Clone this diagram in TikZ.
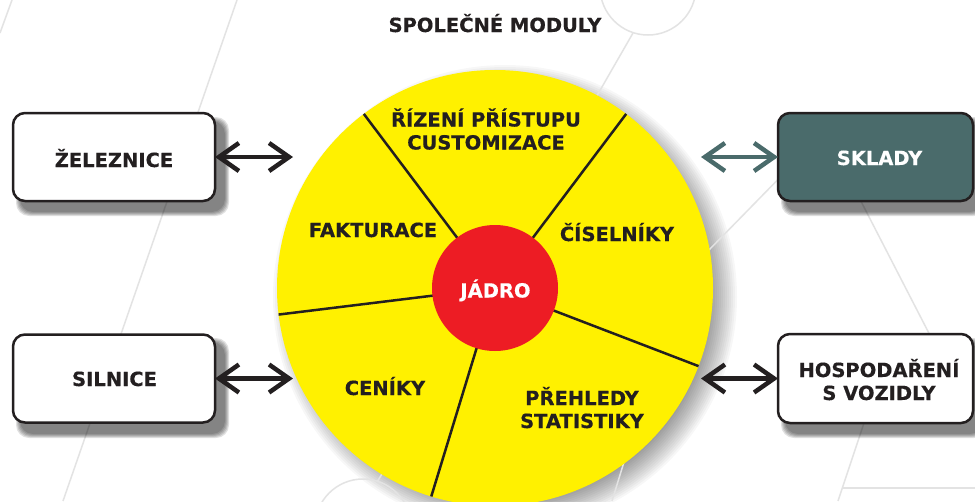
\documentclass[tikz,border=0pt]{standalone}
\usepackage{fontspec}
\setmainfont{DejaVu Sans}[BoldFeatures={FakeBold=0.4}]
\usetikzlibrary{arrows.meta}
\definecolor{ink}{HTML}{231F20}
\definecolor{sun}{HTML}{FFF100}
\definecolor{corered}{HTML}{ED1C24}
\definecolor{skl}{HTML}{4A6B6B}
\definecolor{bgline}{HTML}{E3E3E3}
\newcommand\twolines[2]{\vtop{\baselineskip=23pt\lineskiplimit=-100pt\halign{\hfil##\hfil\cr#1\cr#2\cr}}}
\newcommand\boxshadow[4]{\foreach \s in {0,...,4}{\fill[black,opacity=0.12,rounded corners=13pt] ({#1-#3/2+4+\s},{#2-#4/2+5+\s}) rectangle ({#1+#3/2+13-\s},{#2+#4/2+14-\s});}}
\begin{document}
\begin{tikzpicture}[x=1pt,y=-1pt,
  lbl/.style={font=\fontsize{19.5}{23}\selectfont\bfseries, text=ink, inner sep=0pt, anchor=base},
  modbox/.style={draw=ink, line width=2.5pt, rounded corners=12pt, fill=white, minimum width=202pt, minimum height=88pt, inner sep=0pt, outer sep=0pt},
  divider/.style={draw=ink, line width=2.5pt},
  bg/.style={draw=bgline, line width=1.5pt},
  link/.style={line width=4.5pt, ink, {Straight Barb[length=20pt,width=28pt]}-{Straight Barb[length=20pt,width=28pt]}}
]
\useasboundingbox (0,0) rectangle (975,501);
\fill[white] (0,0) rectangle (975,501);
% wheel shadow
\foreach \s in {0,...,13}{\fill[black,opacity=0.03] (505,297) circle ({232-2*\s});}
% background decoration
\draw[bg] (0,33) -- (12,0);
\draw[bg] (237,0) -- (63,501);
\draw[bg] (648,-13) circle (48);
\draw[bg] (633,33) -- (560,160);
\draw[bg] (800,157) -- (660,300);
\draw[bg] (850,180) -- (935,345);
\draw[bg] (875,390) -- (838,501);
\draw[bg] (843,488) -- (975,488);
\draw[bg] (640,410) -- (612,501);
\draw[bg] (363,527) circle (48);
\draw[bg] (377,482) -- (400,445);
% wheel
\node[circle, fill=sun, minimum size=436pt, inner sep=0pt, outer sep=0pt] (wheel) at (495,288) {};
\foreach \a in {127.6,53.6,187.6,253.5,-21.6}{\draw[divider] (wheel.center) -- (wheel.\a);}
\node[circle, fill=corered, minimum size=126pt, inner sep=0pt, outer sep=0pt] (core) at (495,288) {};
% labels
\node[lbl] (title) at (495,32) {SPOLEČNÉ MODULY};
\node[lbl] (rizeni) at (486,126.5) {\twolines{ŘÍZENÍ PŘÍSTUPU}{CUSTOMIZACE}};
\node[lbl] (fakt) at (373,237) {FAKTURACE};
\node[lbl] (cis) at (617,241) {ČÍSELNÍKY};
\node[lbl, text=white] (jadro) at (495.5,297.5) {JÁDRO};
\node[lbl] (cen) at (385,395) {CENÍKY};
\node[lbl] (preh) at (582,405) {\twolines{PŘEHLEDY}{STATISTIKY}};
% boxes
\boxshadow{114}{157}{204}{90}
\boxshadow{114}{378.5}{204}{91}
\boxshadow{875.5}{157}{197}{90}
\boxshadow{875.5}{378.5}{197}{91}
\node[modbox] (zel) at (114,157) {};
\node[modbox] (sil) at (114,378.5) {};
\node[modbox, fill=skl, minimum width=195pt] (skl) at (875.5,157) {};
\node[modbox, minimum width=195pt, minimum height=89pt] (hosp) at (875.5,378.5) {};
\node[lbl] (zelt) at (114,167) {ŽELEZNICE};
\node[lbl] (silt) at (114.5,386) {SILNICE};
\node[lbl, text=white] (sklt) at (879.5,165) {SKLADY};
\node[lbl] (hospt) at (879,377) {\twolines{HOSPODAŘENÍ}{S VOZIDLY}};
% connectors
\coordinate (zelend) at (293,157);
\coordinate (silend) at (293,378.5);
\coordinate (sklend) at (701,157);
\coordinate (hospend) at (701,378.5);
\draw[link] (zel.east) -- (zelend);
\draw[link] (sil.east) -- (silend);
\draw[link, skl] (skl.west) -- (sklend);
\draw[link] (hosp.west) -- (hospend);
\end{tikzpicture}
\end{document}
